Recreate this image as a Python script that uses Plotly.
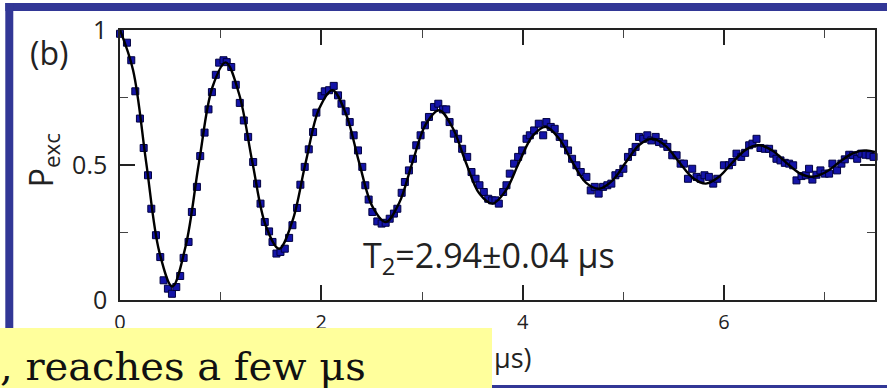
import plotly.graph_objects as go

# ---- data ----
t_data = [0.0, 0.069, 0.112, 0.152, 0.198, 0.235, 0.278, 0.311, 0.357, 0.400, 0.433, 0.476, 0.516, 0.559, 0.598,
          0.632, 0.681, 0.714, 0.764, 0.797, 0.840, 0.879, 0.913, 0.952, 0.985, 1.028, 1.060, 1.105, 1.150, 1.190,
          1.230, 1.273, 1.323, 1.362, 1.396, 1.438, 1.481, 1.515, 1.554, 1.594, 1.637, 1.680, 1.713, 1.759, 1.792,
          1.835, 1.875, 1.918, 1.951, 2.001, 2.034, 2.077, 2.123, 2.166, 2.200, 2.242, 2.282, 2.321, 2.364, 2.407,
          2.437, 2.470, 2.507, 2.556, 2.599, 2.639, 2.679, 2.721, 2.755, 2.798, 2.830, 2.870, 2.910, 2.943, 2.986,
          3.029, 3.069, 3.119, 3.162, 3.208, 3.241, 3.274, 3.316, 3.359, 3.399, 3.449, 3.492, 3.532, 3.571, 3.614,
          3.658, 3.697, 3.730, 3.763, 3.806, 3.839, 3.872, 3.915, 3.955, 3.995, 4.038, 4.071, 4.114, 4.160, 4.204,
          4.236, 4.279, 4.318, 4.368, 4.412, 4.451, 4.491, 4.534, 4.577, 4.633, 4.676, 4.716, 4.755, 4.799, 4.841,
          4.881, 4.921, 4.960, 5.000, 5.046, 5.089, 5.122, 5.156, 5.198, 5.238, 5.278, 5.321, 5.354, 5.397, 5.437,
          5.486, 5.529, 5.569, 5.602, 5.642, 5.684, 5.727, 5.767, 5.806, 5.850, 5.893, 5.933, 5.999, 6.049, 6.082,
          6.124, 6.171, 6.210, 6.250, 6.283, 6.323, 6.362, 6.406, 6.448, 6.488, 6.521, 6.561, 6.604, 6.647, 6.687,
          6.720, 6.770, 6.813, 6.845, 6.878, 6.918, 6.958, 7.001, 7.044, 7.077, 7.123, 7.166, 7.200, 7.244, 7.283,
          7.323, 7.364, 7.406, 7.446, 7.486]
p_data = [0.986, 0.953, 0.888, 0.773, 0.672, 0.563, 0.462, 0.338, 0.240, 0.159, 0.073, 0.042, 0.023, 0.048, 0.089,
          0.156, 0.215, 0.326, 0.419, 0.533, 0.620, 0.706, 0.770, 0.834, 0.879, 0.888, 0.881, 0.863, 0.797, 0.730,
          0.665, 0.604, 0.511, 0.431, 0.357, 0.289, 0.254, 0.215, 0.172, 0.178, 0.190, 0.230, 0.277, 0.341, 0.427,
          0.493, 0.558, 0.622, 0.694, 0.756, 0.773, 0.777, 0.793, 0.758, 0.727, 0.699, 0.659, 0.610, 0.554, 0.493,
          0.425, 0.372, 0.326, 0.291, 0.283, 0.286, 0.301, 0.320, 0.338, 0.397, 0.437, 0.480, 0.523, 0.573, 0.610,
          0.647, 0.678, 0.715, 0.727, 0.706, 0.706, 0.659, 0.616, 0.597, 0.560, 0.530, 0.474, 0.449, 0.425, 0.400,
          0.375, 0.369, 0.369, 0.357, 0.400, 0.425, 0.468, 0.505, 0.530, 0.554, 0.597, 0.610, 0.628, 0.653, 0.610,
          0.659, 0.641, 0.634, 0.604, 0.579, 0.554, 0.523, 0.499, 0.474, 0.456, 0.406, 0.419, 0.394, 0.419, 0.425,
          0.431, 0.462, 0.470, 0.486, 0.530, 0.548, 0.567, 0.604, 0.597, 0.610, 0.591, 0.604, 0.585, 0.579, 0.567,
          0.536, 0.536, 0.505, 0.505, 0.449, 0.486, 0.456, 0.449, 0.462, 0.456, 0.431, 0.449, 0.499, 0.499, 0.511,
          0.542, 0.530, 0.545, 0.573, 0.579, 0.597, 0.563, 0.560, 0.560, 0.542, 0.523, 0.517, 0.508, 0.505, 0.499,
          0.443, 0.459, 0.462, 0.486, 0.446, 0.464, 0.480, 0.468, 0.468, 0.505, 0.480, 0.505, 0.521, 0.538, 0.536,
          0.523, 0.542, 0.538, 0.536, 0.530]

# fit curve, read at its extrema, midline crossings and in between
t_fit = [0.0, 0.13, 0.26, 0.39, 0.52, 0.653, 0.785, 0.918, 1.05, 1.183, 1.315, 1.448, 1.58, 1.713, 1.845, 1.978,
         2.11, 2.243, 2.375, 2.508, 2.64, 2.773, 2.905, 3.038, 3.17, 3.303, 3.435, 3.568, 3.70, 3.833, 3.965, 4.098,
         4.23, 4.363, 4.495, 4.628, 4.76, 4.893, 5.025, 5.158, 5.29, 5.423, 5.555, 5.688, 5.82, 5.953, 6.085, 6.218,
         6.35, 6.483, 6.615, 6.748, 6.88, 7.013, 7.145, 7.278, 7.41, 7.5]
p_fit = [1.0, 0.851, 0.51, 0.179, 0.05, 0.201, 0.51, 0.788, 0.88, 0.763, 0.51, 0.275, 0.19, 0.293, 0.51, 0.708,
         0.777, 0.691, 0.51, 0.346, 0.289, 0.359, 0.51, 0.651, 0.703, 0.639, 0.51, 0.395, 0.357, 0.406, 0.51, 0.607,
         0.641, 0.597, 0.51, 0.435, 0.412, 0.443, 0.51, 0.574, 0.597, 0.570, 0.51, 0.453, 0.431, 0.457, 0.51, 0.557,
         0.573, 0.553, 0.51, 0.470, 0.456, 0.474, 0.51, 0.543, 0.554, 0.548]

x_ticks = [0, 2, 4, 6]
x_minor = [1, 3, 5, 7]
y_ticks = [0, 0.5, 1]
y_tick_text = ["0", "0.5", "1"]
y_minor = [0.25, 0.75]

# ---- layout geometry (pixels) ----
W, H = 887, 388
L, R, T, B = 120, 877, 30, 300


def px(x):
    return (x - L) / (R - L)


def py(y):
    return (B - y) / (B - T)


fig = go.Figure()
fig.add_trace(go.Scatter(x=t_data, y=p_data, mode="markers", cliponaxis=False,
                         marker=dict(symbol="square", size=7, color="#1414a8",
                                     line=dict(color="#000040", width=1)),
                         showlegend=False))
fig.add_trace(go.Scatter(x=t_fit, y=p_fit, mode="lines",
                         line=dict(color="black", width=2.4, shape="spline", smoothing=1.0),
                         showlegend=False))

axis_common = dict(showgrid=False, zeroline=False, showline=True, linecolor="#222", linewidth=1.5,
                   mirror="ticks", ticks="inside", tickcolor="#222", tickwidth=1.5, ticklen=15)

fig.update_xaxes(range=[0, 7.5], tickvals=x_ticks, ticktext=[str(v) for v in x_ticks],
                 tickfont=dict(family="Open Sans", size=20, color="#222"), ticklabelstandoff=3,
                 minor=dict(tickvals=x_minor, ticks="inside", ticklen=8, tickcolor="#444", tickwidth=1.2),
                 **axis_common)
fig.update_yaxes(range=[0, 1], tickvals=y_ticks, ticktext=y_tick_text,
                 tickfont=dict(family="Open Sans", size=25, color="#222"), ticklabelstandoff=6,
                 minor=dict(tickvals=y_minor, ticks="inside", ticklen=8, tickcolor="#444", tickwidth=1.2),
                 **axis_common)

blue = "#323796"
shapes = [
    # top frame bar
    dict(type="rect", xref="paper", yref="paper", x0=px(5), x1=px(W + 5), y0=py(11), y1=py(3),
         fillcolor=blue, line=dict(width=0), layer="above"),
    # left frame bar
    dict(type="rect", xref="paper", yref="paper", x0=px(5), x1=px(13), y0=py(330), y1=py(3),
         fillcolor=blue, line=dict(width=0), layer="above"),
    # bottom frame line
    dict(type="rect", xref="paper", yref="paper", x0=px(490), x1=px(W + 5), y0=py(388), y1=py(385),
         fillcolor=blue, line=dict(width=0), layer="above"),
    # yellow caption box
    dict(type="rect", xref="paper", yref="paper", x0=px(-2), x1=px(493), y0=py(392), y1=py(328),
         fillcolor="#ffff9c", line=dict(width=0), layer="above"),
]

annotations = [
    dict(text="(b)", xref="paper", yref="paper", x=px(49), y=py(53), xanchor="center", yanchor="middle",
         showarrow=False, font=dict(family="Open Sans", size=32, color="#222")),
    dict(text="P<sub>exc</sub>", xref="paper", yref="paper", x=px(43), y=py(160), xanchor="center",
         yanchor="middle", textangle=-90, showarrow=False, font=dict(family="Open Sans", size=32, color="#222")),
    dict(text="T<sub>2</sub>=2.94±0.04 μs", xref="paper", yref="paper", x=px(362), y=py(257),
         xanchor="left", yanchor="middle", showarrow=False,
         font=dict(family="Open Sans", size=34, color="#222")),
    dict(text="μs)", xref="paper", yref="paper", x=px(493), y=py(357), xanchor="left", yanchor="middle",
         showarrow=False, font=dict(family="Open Sans", size=27, color="#222")),
    dict(text=", reaches a few μs", xref="paper", yref="paper", x=px(-2), y=py(366), xanchor="left",
         yanchor="middle", showarrow=False, align="left",
         font=dict(family="DejaVu Serif", size=40, color="#111")),
]

fig.update_layout(width=W, height=H, margin=dict(l=L, r=W - R, t=T, b=H - B),
                  paper_bgcolor="white", plot_bgcolor="white", shapes=shapes, annotations=annotations)

fig.write_html("out.html")
